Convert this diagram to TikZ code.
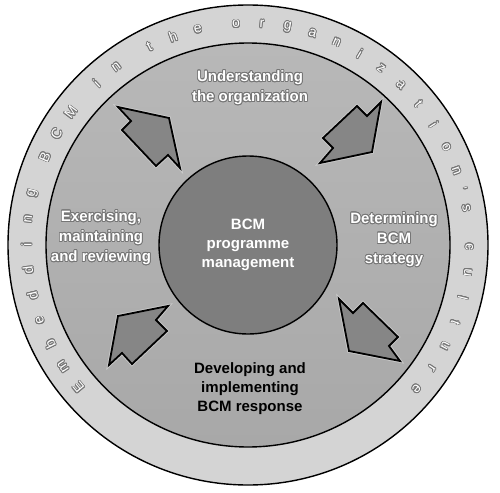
\documentclass[tikz,border=0pt]{standalone}
\usepackage{fontspec}
\setmainfont{Liberation Sans}
\usepackage{contour}
\contourlength{0.8pt}
\usetikzlibrary{positioning}
\definecolor{bcmband}{HTML}{D4D4D4}
\definecolor{bcmdisktop}{HTML}{B8B8B8}
\definecolor{bcmdiskbot}{HTML}{A8A8A8}
\definecolor{bcmcore}{HTML}{7E7E7E}
\definecolor{bcmarrow}{HTML}{868686}
\definecolor{bcmedge}{HTML}{767676}
\definecolor{bcmglow}{HTML}{CACACA}
\newcommand{\bcmout}[1]{\contour{bcmedge}{#1}}
\tikzset{
  bcm ring/.style={circle, draw=black, line width=1.4pt, inner sep=0pt},
  bcm arrow/.style={draw=black, line width=1.8pt, fill=bcmarrow, line join=miter,
    preaction={draw=bcmglow, line width=3.6pt}},
  bcm label/.style={font=\fontsize{15}{20}\selectfont\bfseries, text=white, align=center},
  bcm dark/.style={font=\fontsize{15}{19}\selectfont\bfseries, text=black, align=center},
  bcm letter/.style={font=\fontsize{14}{14}\selectfont, text=white, inner sep=0pt}
}

\begin{document}
\begin{tikzpicture}[x=1pt, y=-1pt]
  \useasboundingbox (0,0) rectangle (500,492);
  \coordinate (c) at (248,245);
  % rings
  \node[bcm ring, fill=bcmband, minimum size=480pt] (band) at (c) {};
  \node[bcm ring, top color=bcmdisktop, bottom color=bcmdiskbot, minimum size=404pt] (disk) at (c) {};
  \node[bcm ring, fill=bcmcore, minimum size=178pt, bcm label,
    font=\fontsize{15}{19}\selectfont\bfseries] (core) at (c) {BCM\\programme\\management};
  % the four phases
  \node[bcm label] (understand) at (250,88) {\bcmout{Understanding}\\\bcmout{the organization}};
  \node[bcm label] (determine) at (394,240) {\bcmout{Determining}\\\bcmout{BCM}\\\bcmout{strategy}};
  \node[bcm label] (exercise) at (101,238) {\bcmout{Exercising,}\\\bcmout{maintaining}\\\bcmout{and reviewing}};
  \node[bcm dark] (develop) at (250,389) {Developing and\\implementing\\BCM response};
  % block arrows
  \draw[bcm arrow] (118,107) -- (169,118) -- (180,168) -- (168,155) -- (156,166) -- (122,130) -- (131,121) -- cycle;
  \draw[bcm arrow] (381,102) -- (372,152) -- (320,163) -- (333,148) -- (323,138) -- (357,106) -- (367,116) -- cycle;
  \draw[bcm arrow] (339,299) -- (353,313) -- (363,303) -- (398,337) -- (389,346) -- (400,361) -- (349,351) -- cycle;
  \draw[bcm arrow] (168,306) -- (156,320) -- (167,331) -- (132,364) -- (122,353) -- (109,365) -- (118,316) -- cycle;
  % text round the band
  \begin{scope}[shift={(c)}, y=1pt]
    \foreach \ch/\p [count=\k] in {E/0,m/2,b/4,e/6,d/8,d/10,i/12,n/14,g/16,
        B/19,C/21,M/23,i/26,n/28,t/31,h/33,e/35,
        o/38,r/40,g/42,a/44,n/46,i/48,z/50,a/52,t/54,i/56,o/58,n/60,'/61.5,s/63,
        c/66,u/68,l/70,t/72,u/74,r/76,e/78}
      \node[bcm letter, rotate={130-\p*3.34}] (ltr\k) at ({220-\p*3.34}:221) {\bcmout{\ch}};
  \end{scope}
\end{tikzpicture}
\end{document}
